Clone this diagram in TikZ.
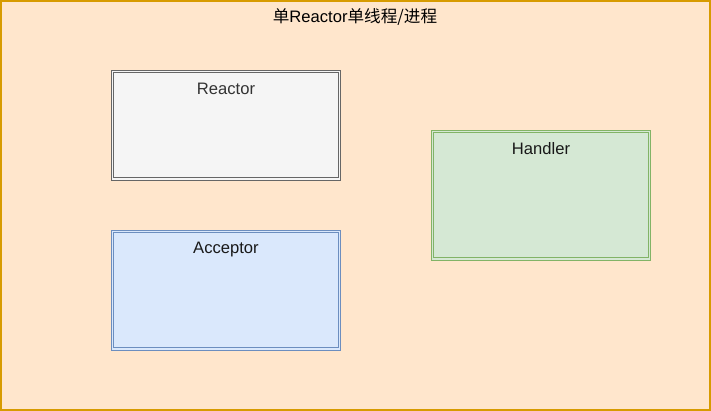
\documentclass[tikz,border=0pt]{standalone}
\usepackage{fontspec}
\setmainfont{Liberation Sans}
\newfontfamily\cjk{Noto Sans CJK SC}
\definecolor{bgfill}{HTML}{FFE6CC}
\definecolor{bgline}{HTML}{D79B00}
\definecolor{grayfill}{HTML}{F5F5F5}
\definecolor{grayline}{HTML}{666666}
\definecolor{graytext}{HTML}{333333}
\definecolor{bluefill}{HTML}{DAE8FC}
\definecolor{blueline}{HTML}{6C8EBF}
\definecolor{greenfill}{HTML}{D5E8D4}
\definecolor{greenline}{HTML}{82B366}
\tikzset{
  box/.style={rectangle, line width=0.9pt, double distance=1.5pt, inner sep=0pt},
  lbl/.style={anchor=center, font=\fontsize{16.6}{19}\selectfont, inner sep=0pt}
}
\begin{document}
\begin{tikzpicture}[x=1pt,y=-1pt]
\useasboundingbox (0,0) rectangle (711,411);
\fill[bgfill] (0,0) rectangle (711,411);
\draw[bgline, line width=1.6pt] (0.8,0.8) rectangle (710.2,410.2);
\node[lbl, text=black] (title) at (355,17.5) {{\cjk 单}Reactor{\cjk 单线程/进程}};
\node[box, draw=grayline, double=grayfill, fill=grayfill, minimum width=226.7pt, minimum height=107.2pt] (reactor) at (226,125.3) {};
\node[lbl, text=graytext] (reactort) at (226,89) {Reactor};
\node[box, draw=blueline, double=bluefill, fill=bluefill, minimum width=226.7pt, minimum height=117.2pt] (acceptor) at (226,290.3) {};
\node[lbl, text=black!90] (acceptort) at (226,249.5) {Acceptor};
\node[box, draw=greenline, double=greenfill, fill=greenfill, minimum width=216.7pt, minimum height=127.2pt] (handler) at (541,195.3) {};
\node[lbl, text=black!90] (handlert) at (541,149) {Handler};
\end{tikzpicture}
\end{document}
